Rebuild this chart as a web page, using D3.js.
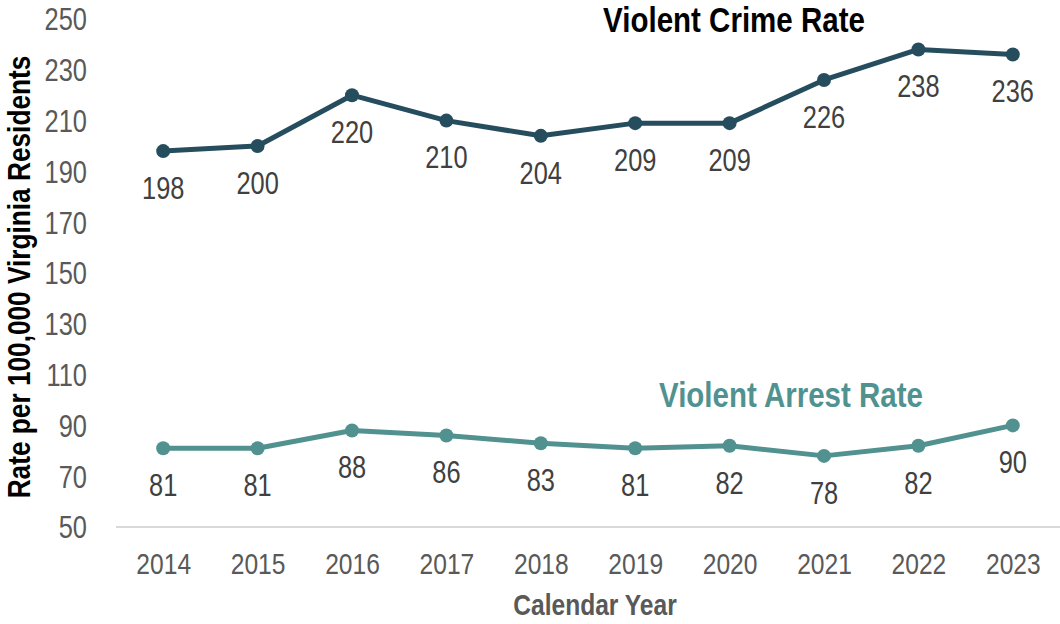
<!DOCTYPE html>
<html><head><meta charset="utf-8">
<script src="https://cdn.jsdelivr.net/npm/d3@7/dist/d3.min.js"></script>
<style>
body{margin:0;background:#fff;}
text{font-family:"Liberation Sans",Arial,sans-serif;}
</style></head>
<body><svg id="c" width="1060" height="624"></svg>
<script>
const years = [2014,2015,2016,2017,2018,2019,2020,2021,2022,2023];
const crimeRate = [198,200,220,210,204,209,209,226,238,236];
const arrestRate = [81,81,88,86,83,81,82,78,82,90];
const yTicks = [50,70,90,110,130,150,170,190,210,230,250];
const seriesNames = ["Violent Crime Rate","Violent Arrest Rate"];

const NARROW = 0.82; // emulate a narrow face
const svg = d3.select("#c");
const x = d3.scalePoint().domain(years).range([116,1060]).padding(0.5);
const y = d3.scaleLinear().domain([50,250]).range([527,19]);

function narrowText(parent, px, py, rot){
  return parent.append("text")
    .attr("transform", `translate(${px},${py})` + (rot ? ` rotate(${rot})` : "") + ` scale(${NARROW},1)`);
}

const xAxis = d3.axisBottom(x).tickSize(0).tickPadding(26);
const gx = svg.append("g").attr("transform","translate(0,527)").call(xAxis);
gx.select(".domain").attr("stroke","#d9d9d9").attr("stroke-width",2).attr("d","M116,0H1060");
gx.selectAll("text").attr("font-size",30).attr("fill","#595959").attr("dy","0.71em")
  .attr("transform",`scale(${NARROW},1)`).attr("font-family","Liberation Sans, Arial, sans-serif");

const yAxis = d3.axisLeft(y).tickValues(yTicks).tickSize(0).tickPadding(0);
const gy = svg.append("g").attr("transform","translate(87,0)").call(yAxis);
gy.select(".domain").remove();
gy.selectAll("text").attr("font-size",31).attr("fill","#595959").attr("dy","0.35em")
  .attr("transform",`scale(${NARROW},1)`).attr("font-family","Liberation Sans, Arial, sans-serif");

narrowText(svg, 30, 277, -90)
  .attr("text-anchor","middle").attr("font-size",32).attr("font-weight","bold").attr("fill","#000")
  .text("Rate per 100,000 Virginia Residents");
narrowText(svg, 595, 615)
  .attr("text-anchor","middle").attr("font-size",30).attr("font-weight","bold").attr("fill","#595959")
  .text("Calendar Year");

const series = [
  {name:seriesNames[0], values:crimeRate, color:"#264d5e", tx:734, ty:32, tcolor:"#000"},
  {name:seriesNames[1], values:arrestRate, color:"#519290", tx:791, ty:407, tcolor:"#519290"}
];
const line = d3.line().x((d,i)=>x(years[i])).y(d=>y(d));
series.forEach(s=>{
  svg.append("path").attr("d",line(s.values)).attr("fill","none")
    .attr("stroke",s.color).attr("stroke-width",5).attr("stroke-linejoin","round");
  svg.selectAll(null).data(s.values).enter().append("circle")
    .attr("cx",(d,i)=>x(years[i])).attr("cy",d=>y(d)).attr("r",7).attr("fill",s.color);
  svg.selectAll(null).data(s.values).enter().append("text")
    .attr("transform",(d,i)=>`translate(${x(years[i])},${y(d)+37}) scale(${NARROW},1)`)
    .attr("dy","0.35em")
    .attr("text-anchor","middle").attr("font-size",31).attr("fill","#404040")
    .text(d=>d);
  narrowText(svg, s.tx, s.ty).attr("text-anchor","middle")
    .attr("font-size",36).attr("font-weight","bold").attr("fill",s.tcolor).text(s.name);
});
</script></body></html>
